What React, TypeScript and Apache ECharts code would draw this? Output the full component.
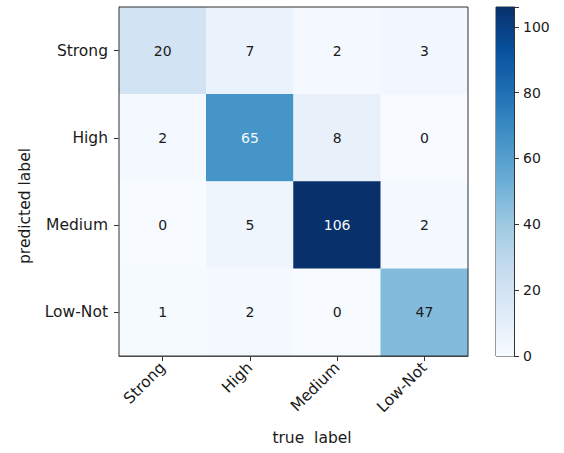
import React, { useEffect, useRef } from "react";
import * as echarts from "echarts";

// Class names (rows = predicted label, columns = true label)
const trueLabels = ["Strong", "High", "Medium", "Low-Not"];
const predictedLabels = ["Strong", "High", "Medium", "Low-Not"];

// Confusion matrix counts, one array per predicted-label row
const rowStrong = [20, 7, 2, 3];
const rowHigh = [2, 65, 8, 0];
const rowMedium = [0, 5, 106, 2];
const rowLowNot = [1, 2, 0, 47];
const matrix = [rowStrong, rowHigh, rowMedium, rowLowNot];

// Colour bar ticks
const colorbarTicks = [0, 20, 40, 60, 80, 100];

// Matplotlib "Blues" colormap anchors
const blues = [
  "#f7fbff",
  "#deebf7",
  "#c6dbef",
  "#9ecae1",
  "#6baed6",
  "#4292c6",
  "#2171b5",
  "#08519c",
  "#08306b",
];

const FONT = "DejaVu Sans";
const TEXT = "#1a1a1a";
const LIGHT_TEXT = "rgb(245, 248, 252)";
const LABEL_SIZE = 15.5;
const NUM_SIZE = 14;

export default function App() {
  const ref = useRef<HTMLDivElement>(null);

  useEffect(() => {
    if (!ref.current) return;
    const chart = echarts.init(ref.current, undefined, { renderer: "svg" });

    const maxVal = Math.max(...matrix.flat());
    const thresh = maxVal / 2;

    const heatData: number[][] = [];
    matrix.forEach((row, r) => {
      row.forEach((v, c) => heatData.push([c, r, v]));
    });

    const stops = blues.map((col, i) => ({ offset: i / (blues.length - 1), color: col }));

    chart.setOption({
      animation: false,
      textStyle: { fontFamily: FONT },
      grid: [
        {
          left: 119,
          top: 7,
          width: 349,
          height: 349,
          show: true,
          borderColor: "#333",
          borderWidth: 1,
          backgroundColor: "transparent",
          z: 5,
        },
        {
          left: 496,
          top: 7,
          width: 18,
          height: 349,
          show: true,
          borderColor: "#333",
          borderWidth: 1,
          backgroundColor: "transparent",
        },
      ],
      xAxis: [
        {
          type: "category",
          gridIndex: 0,
          data: trueLabels,
          axisLine: { show: true, lineStyle: { color: "#333" } },
          axisTick: { show: true, alignWithLabel: true, length: 5, lineStyle: { color: "#333" } },
          axisLabel: {
            rotate: 45,
            margin: 9,
            fontFamily: FONT,
            fontSize: LABEL_SIZE,
            color: TEXT,
          },
          splitLine: { show: false },
        },
        {
          type: "category",
          gridIndex: 1,
          data: ["cb"],
          show: false,
        },
      ],
      yAxis: [
        {
          type: "category",
          gridIndex: 0,
          data: predictedLabels,
          inverse: true,
          axisLine: { show: true, lineStyle: { color: "#333" } },
          axisTick: { show: true, alignWithLabel: true, length: 5, lineStyle: { color: "#333" } },
          axisLabel: { margin: 11, fontFamily: FONT, fontSize: LABEL_SIZE, color: TEXT },
          splitLine: { show: false },
        },
        {
          type: "value",
          gridIndex: 1,
          min: 0,
          max: maxVal,
          interval: 20,
          position: "right",
          axisLine: { show: true, lineStyle: { color: "#333" } },
          axisTick: { show: true, inside: false, length: 5, lineStyle: { color: "#333" } },
          axisLabel: {
            margin: 9,
            fontFamily: FONT,
            fontSize: NUM_SIZE,
            color: TEXT,
            customValues: colorbarTicks,
          },
          splitLine: { show: false },
        },
      ],
      visualMap: {
        show: false,
        seriesIndex: 0,
        dimension: 2,
        min: 0,
        max: maxVal,
        inRange: { color: blues },
      },
      graphic: [
        {
          type: "text",
          x: 25,
          y: 206,
          rotation: Math.PI / 2,
          style: {
            text: "predicted label",
            fontFamily: FONT,
            fontSize: LABEL_SIZE,
            fill: TEXT,
            align: "center",
            verticalAlign: "middle",
          },
        },
        {
          type: "text",
          x: 312,
          y: 438,
          style: {
            text: "true  label",
            fontFamily: FONT,
            fontSize: LABEL_SIZE,
            fill: TEXT,
            align: "center",
            verticalAlign: "middle",
          },
        },
      ],
      series: [
        {
          type: "heatmap",
          xAxisIndex: 0,
          yAxisIndex: 0,
          data: heatData,
          label: { show: false },
          itemStyle: { borderWidth: 0 },
          emphasis: { disabled: true },
        },
        {
          // cell count annotations, light text on dark cells
          type: "custom",
          xAxisIndex: 0,
          yAxisIndex: 0,
          data: heatData,
          silent: true,
          z: 10,
          renderItem: (_params: any, api: any) => {
            const v = Number(api.value(2));
            const pt = api.coord([api.value(0), api.value(1)]);
            const light = v > thresh;
            return {
              type: "text",
              x: pt[0],
              y: pt[1],
              style: {
                text: String(v),
                fill: light ? LIGHT_TEXT : TEXT,
                stroke: "none",
                lineWidth: 0,
                opacity: 1,
                fontFamily: FONT,
                fontSize: NUM_SIZE,
                align: "center",
                verticalAlign: "middle",
              },
            };
          },
        },
        {
          type: "bar",
          xAxisIndex: 1,
          yAxisIndex: 1,
          data: [maxVal],
          barWidth: "100%",
          silent: true,
          itemStyle: {
            color: new echarts.graphic.LinearGradient(0, 1, 0, 0, stops),
          },
        },
      ],
    });

    return () => chart.dispose();
  }, []);

  return (
    <div
      ref={ref}
      style={{ position: "absolute", left: 0, top: 0, width: 564, height: 453, background: "#fff" }}
    />
  );
}
